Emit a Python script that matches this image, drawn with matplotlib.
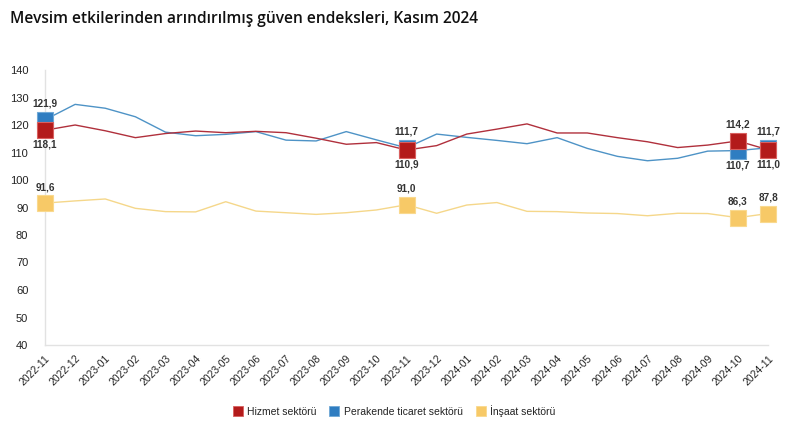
import matplotlib
matplotlib.use("Agg")
import matplotlib.pyplot as plt
import matplotlib.transforms as mtransforms
from matplotlib.lines import Line2D

plt.rcParams['font.family'] = ['Liberation Sans', 'DejaVu Sans']

months = ["2022-11", "2022-12", "2023-01", "2023-02", "2023-03", "2023-04", "2023-05",
          "2023-06", "2023-07", "2023-08", "2023-09", "2023-10", "2023-11", "2023-12",
          "2024-01", "2024-02", "2024-03", "2024-04", "2024-05", "2024-06", "2024-07",
          "2024-08", "2024-09", "2024-10", "2024-11"]

hizmet = [118.1, 120.0, 117.9, 115.4, 116.9, 117.8, 117.2, 117.7, 117.2, 115.2, 113.0,
          113.6, 110.9, 112.5, 116.7, 118.5, 120.4, 117.1, 117.1, 115.4, 113.9, 111.8,
          112.7, 114.2, 111.0]
perakende = [121.9, 127.5, 126.1, 123.0, 117.4, 116.1, 116.6, 117.6, 114.5, 114.2, 117.6,
             114.6, 111.7, 116.7, 115.5, 114.4, 113.2, 115.4, 111.5, 108.6, 107.0, 107.9,
             110.5, 110.7, 111.7]
insaat = [91.6, 92.4, 93.1, 89.7, 88.5, 88.4, 92.1, 88.7, 88.1, 87.5, 88.1, 89.1, 91.0,
          87.9, 90.9, 91.8, 88.6, 88.5, 88.0, 87.8, 87.0, 87.9, 87.8, 86.3, 87.8]
labeled_idx = [0, 12, 23, 24]
yticks = [40, 50, 60, 70, 80, 90, 100, 110, 120, 130, 140]

series_names = ["Hizmet sektörü", "Perakende ticaret sektörü", "İnşaat sektörü"]

red_line, red_mk = "#B0303C", "#B31B1B"
blue_line, blue_mk = "#4E93C6", "#2F7DC1"
yel_line, yel_mk = "#F5D78A", "#F7C967"

fig = plt.figure(figsize=(7.99, 4.40), dpi=100)
ax = fig.add_axes([45/799, 1-345/440, (768-45)/799, 275/440])
x = list(range(len(months)))

ax.plot(x, insaat, color=yel_line, lw=1.0, zorder=2, clip_on=False)
ax.plot(x, perakende, color=blue_line, lw=1.0, zorder=3, clip_on=False)
ax.plot(x, hizmet, color=red_line, lw=1.0, zorder=4, clip_on=False)

ms = 11
ax.plot([x[i] for i in labeled_idx], [insaat[i] for i in labeled_idx], 's', ms=ms,
        color=yel_mk, mec="#F9D98E", mew=0.8, zorder=5, clip_on=False)
ax.plot([x[i] for i in labeled_idx], [perakende[i] for i in labeled_idx], 's', ms=ms,
        color=blue_mk, mec="#6FA8D6", mew=0.8, zorder=6, clip_on=False)
ax.plot([x[i] for i in labeled_idx], [hizmet[i] for i in labeled_idx], 's', ms=ms,
        color=red_mk, mec="#D9605F", mew=0.8, zorder=7, clip_on=False)

def fmt(v):
    return f"{v:.1f}".replace(".", ",")

lab_kw = dict(textcoords="offset points", ha="center", va="center", fontsize=7.2,
              fontweight="bold", color="#333333", zorder=10)
for i in labeled_idx:
    hi, lo = (hizmet[i], perakende[i]) if hizmet[i] >= perakende[i] else (perakende[i], hizmet[i])
    ax.annotate(fmt(hi), (x[i], hi), xytext=(0, 11.5), **lab_kw)
    ax.annotate(fmt(lo), (x[i], lo), xytext=(0, -10.5), **lab_kw)
    ax.annotate(fmt(insaat[i]), (x[i], insaat[i]), xytext=(0, 11.5), **lab_kw)

ax.set_xlim(0, len(months) - 1)
ax.set_ylim(40, 140)
ax.set_yticks(yticks)
ax.set_yticklabels([str(t) for t in yticks], fontsize=8, color="#222222")
ax.set_xticks(x)
ax.set_xticklabels(months, rotation=45, ha="right", va="top", rotation_mode="anchor",
                   fontsize=7.5, color="#222222")
off = mtransforms.ScaledTranslation(9/100, -6/100, fig.dpi_scale_trans)
for lbl in ax.get_xticklabels():
    lbl.set_transform(lbl.get_transform() + off)
ax.tick_params(axis="both", length=0)
ax.tick_params(axis="y", pad=12)
ax.tick_params(axis="x", pad=6)

for s in ["top", "right"]:
    ax.spines[s].set_visible(False)
ax.spines["left"].set_color("#E2E2E2")
ax.spines["bottom"].set_color("#E2E2E2")
ax.spines["left"].set_linewidth(1.0)
ax.spines["bottom"].set_linewidth(1.0)

fig.text(10/799, 1-19/440, "Mevsim etkilerinden arındırılmış güven endeksleri, Kasım 2024",
         fontsize=11.2, fontweight="semibold", family=["Open Sans", "DejaVu Sans"],
         ha="left", va="center", color="#111111")

handles = [Line2D([], [], marker="s", ls="none", ms=7, color=c, mec=e, mew=0.6)
           for c, e in [(red_mk, "#D9605F"), (blue_mk, "#6FA8D6"), (yel_mk, "#F9D98E")]]
fig.legend(handles, series_names, loc="center", bbox_to_anchor=(394/799, 1-411/440),
           ncol=3, frameon=False, fontsize=7.5, handletextpad=0.4, columnspacing=1.2,
           handlelength=1.0, labelcolor="#222222")

fig.savefig("out.png", dpi=100, facecolor="white")
